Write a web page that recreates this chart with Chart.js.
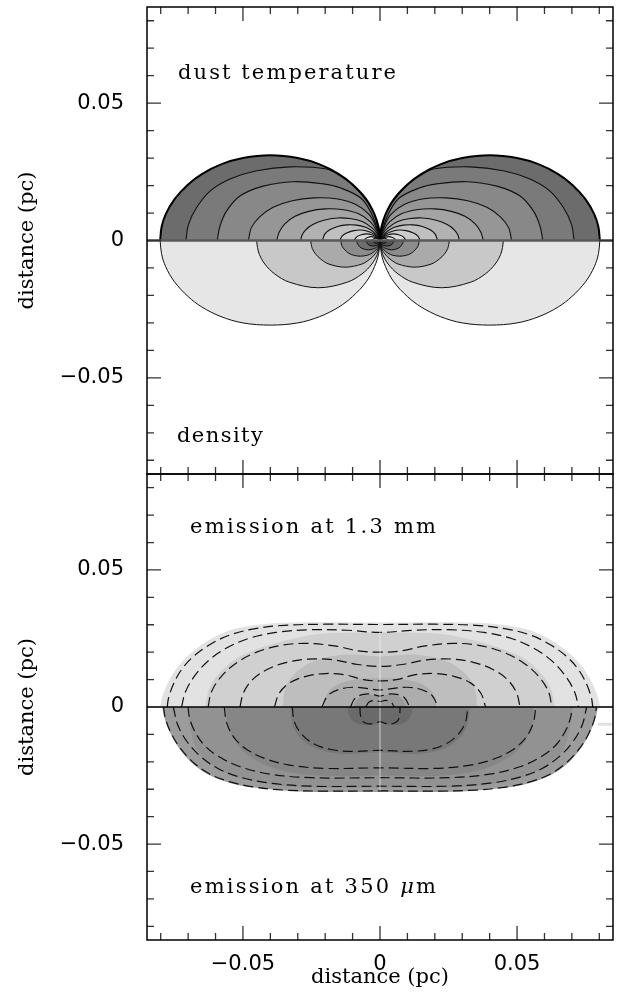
<!DOCTYPE html>
<html lang="en">
<head>
<meta charset="UTF-8">
<title>dust temperature / density / emission</title>
<script src="https://cdn.jsdelivr.net/npm/chart.js"></script>
<style>
    body { margin: 0; background: #fff; width: 618px; height: 994px; overflow: hidden; }
    .painel { position: absolute; left: 0; }
</style>
</head>
<body>
<canvas id="mapaTopo" class="painel" width="618" height="480" style="top:0"></canvas>
<canvas id="mapaBase" class="painel" width="618" height="524" style="top:470px"></canvas>

<script>
    // axis ticks (pc)
    var minorTicks = [-0.08, -0.07, -0.06, -0.05, -0.04, -0.03, -0.02, -0.01, 0, 0.01, 0.02, 0.03, 0.04, 0.05, 0.06, 0.07, 0.08];
    var majorTicks = [-0.05, 0, 0.05];
    var tickLabels = ['\u22120.05', '0', '0.05'];

    // top panel, right lobe (the left lobe is its mirror image), [x, y] in pc
    var lobeUpper = [[0, 0], [0.0005, 0.0048], [0.002, 0.0095], [0.005, 0.015], [0.01, 0.0204], [0.015, 0.0242], [0.022, 0.0277], [0.03, 0.030], [0.04, 0.031], [0.05, 0.030], [0.058, 0.0277], [0.065, 0.0242], [0.07, 0.0204], [0.075, 0.015], [0.0782, 0.0095], [0.0797, 0.0048], [0.0802, 0]];
    var lobeLower = [[0, 0], [0.0005, -0.0048], [0.002, -0.0095], [0.005, -0.015], [0.01, -0.0204], [0.015, -0.0242], [0.022, -0.0277], [0.03, -0.030], [0.04, -0.0308], [0.05, -0.030], [0.058, -0.0277], [0.065, -0.0242], [0.07, -0.0204], [0.075, -0.015], [0.0782, -0.0095], [0.0797, -0.0048], [0.0802, 0]];

    // dust temperature contours (upper half), from the centre out to the mid line
    var tempContours = [
        [[0, 0], [0.002, 0.0093], [0.005, 0.0146], [0.01, 0.0202], [0.015, 0.0238], [0.0195, 0.026], [0.0328, 0.0268], [0.045, 0.0254], [0.0547, 0.0224], [0.062, 0.018], [0.0669, 0.012], [0.0699, 0.0058], [0.0708, 0]],
        [[0, 0], [0.0024, 0.0082], [0.0067, 0.0152], [0.0146, 0.0192], [0.0207, 0.0206], [0.0316, 0.0214], [0.0426, 0.0198], [0.0511, 0.0162], [0.056, 0.0107], [0.0584, 0.0052], [0.0594, 0]],
        [[0, 0], [0.0015, 0.005], [0.004, 0.0095], [0.009, 0.0132], [0.016, 0.0152], [0.024, 0.0155], [0.032, 0.0145], [0.039, 0.0121], [0.044, 0.0085], [0.047, 0.0045], [0.048, 0]],
        [[0, 0], [0.0012, 0.0035], [0.0035, 0.0068], [0.008, 0.0098], [0.014, 0.0113], [0.02, 0.0115], [0.026, 0.0106], [0.031, 0.0088], [0.0348, 0.006], [0.0368, 0.003], [0.0377, 0]],
        [[0, 0], [0.001, 0.0024], [0.003, 0.0047], [0.0065, 0.0069], [0.011, 0.008], [0.0155, 0.0082], [0.0205, 0.0074], [0.0245, 0.0058], [0.0272, 0.0038], [0.0285, 0.0018], [0.0289, 0]],
        [[0, 0], [0.001, 0.0016], [0.0025, 0.0032], [0.005, 0.0047], [0.0085, 0.0056], [0.012, 0.0057], [0.0155, 0.0051], [0.0183, 0.0039], [0.0201, 0.0024], [0.021, 0]],
        [[0, 0], [0.0008, 0.0011], [0.002, 0.0022], [0.004, 0.0032], [0.0068, 0.0038], [0.0095, 0.0036], [0.0122, 0.0027], [0.0139, 0.0015], [0.0146, 0]],
        [[0, 0], [0.0006, 0.0007], [0.0015, 0.0014], [0.003, 0.0021], [0.0048, 0.0024], [0.0068, 0.0021], [0.0084, 0.0014], [0.0095, 0]],
        [[0, 0], [0.001, 0.0008], [0.002, 0.0012], [0.0032, 0.0014], [0.0045, 0.0011], [0.0054, 0.0006], [0.0058, 0]],
        [[0, 0], [0.0008, 0.0006], [0.0016, 0.0008], [0.0025, 0.0005], [0.003, 0]]
    ];

    // density contours (lower half)
    var densContours = [
        [[0, 0], [0.0003, -0.0025], [0.001, -0.0051], [0.003, -0.0086], [0.0065, -0.0121], [0.012, -0.0152], [0.0225, -0.0172], [0.033, -0.0152], [0.0385, -0.0121], [0.042, -0.0086], [0.044, -0.0051], [0.0447, -0.0025], [0.045, 0]],
        [[0, 0], [0.0002, -0.0014], [0.0006, -0.0029], [0.0017, -0.0048], [0.0037, -0.0068], [0.0067, -0.0086], [0.0127, -0.0097], [0.0186, -0.0086], [0.0216, -0.0068], [0.0236, -0.0048], [0.0247, -0.0029], [0.0251, -0.0014], [0.0253, 0]],
        [[0, 0], [0.0003, -0.0017], [0.001, -0.0029], [0.0021, -0.004], [0.0038, -0.0051], [0.0072, -0.0057], [0.0105, -0.0051], [0.0122, -0.004], [0.0133, -0.0029], [0.014, -0.0017], [0.0143, 0]],
        [[0, 0], [0.0002, -0.001], [0.0006, -0.0017], [0.0012, -0.0024], [0.0023, -0.003], [0.0043, -0.0034], [0.0062, -0.003], [0.0073, -0.0024], [0.0079, -0.0017], [0.0083, -0.001], [0.0085, 0]],
        [[0, 0], [0.0004, -0.0011], [0.0013, -0.0018], [0.0025, -0.002], [0.0037, -0.0018], [0.0046, -0.0011], [0.005, 0]],
        [[0, 0], [0.0002, -0.0006], [0.0007, -0.0009], [0.0013, -0.001], [0.0019, -0.0009], [0.0023, -0.0006], [0.0025, 0]]
    ];

    // bottom panel, right half from x = 0 to the mid line (left half mirrored)
    var mm13Fills = [
        [[0, 0.0308], [0.02, 0.0309], [0.035, 0.0307], [0.045, 0.0299], [0.052, 0.0287], [0.058, 0.0267], [0.064, 0.0234], [0.069, 0.0196], [0.0735, 0.015], [0.0768, 0.010], [0.079, 0.005], [0.0803, 0]],
        [[0, 0.0272], [0.0207, 0.0268], [0.031, 0.0251], [0.0389, 0.0231], [0.047, 0.0203], [0.0535, 0.017], [0.0585, 0.0125], [0.062, 0.0075], [0.0639, 0]],
        [[0, 0.0185], [0.008, 0.019], [0.0146, 0.019], [0.0215, 0.0176], [0.0268, 0.0155], [0.031, 0.0122], [0.0341, 0.008], [0.0352, 0.0035], [0.0353, 0]],
        [[0, 0.0105], [0.006, 0.0104], [0.0109, 0.0097], [0.015, 0.0085], [0.0185, 0.006], [0.0201, 0.003], [0.0207, 0]],
        [[0, 0.004], [0.003, 0.0045], [0.006, 0.0042], [0.008, 0.003], [0.0092, 0.0015], [0.0095, 0]]
    ];
    var mm13Lines = [
        [[0, 0.0301], [0.02, 0.0302], [0.035, 0.0298], [0.046, 0.0285], [0.055, 0.0262], [0.062, 0.0228], [0.068, 0.0185], [0.0725, 0.0135], [0.0755, 0.008], [0.0772, 0.003], [0.0776, 0]],
        [[0, 0.0272], [0.012, 0.028], [0.025, 0.0282], [0.038, 0.0272], [0.048, 0.025], [0.056, 0.0215], [0.0625, 0.017], [0.0675, 0.0115], [0.071, 0.0055], [0.0724, 0]],
        [[0, 0.020], [0.008, 0.0205], [0.016, 0.0222], [0.0268, 0.0232], [0.036, 0.0225], [0.045, 0.020], [0.0525, 0.016], [0.058, 0.011], [0.0615, 0.0055], [0.0627, 0]],
        [[0, 0.0148], [0.008, 0.0155], [0.017, 0.0172], [0.026, 0.0175], [0.034, 0.0163], [0.041, 0.0138], [0.0465, 0.010], [0.0498, 0.0052], [0.0511, 0]],
        [[0, 0.0095], [0.006, 0.010], [0.013, 0.0118], [0.02, 0.0122], [0.027, 0.0112], [0.033, 0.0088], [0.0368, 0.005], [0.0385, 0]],
        [[0, 0.0062], [0.005, 0.0068], [0.01, 0.0072], [0.015, 0.0064], [0.019, 0.0042], [0.0212, 0]],
        [[0, 0.004], [0.003, 0.0047], [0.006, 0.0046], [0.009, 0.0033], [0.0108, 0]],
        [[0, 0.002], [0.002, 0.0024], [0.004, 0.0018], [0.0052, 0]]
    ];
    var um350Fills = [
        [[0, -0.031], [0.02, -0.031], [0.033, -0.0306], [0.045, -0.0295], [0.0511, -0.0286], [0.057, -0.027], [0.062, -0.025], [0.0665, -0.0222], [0.0705, -0.0185], [0.074, -0.014], [0.0765, -0.0095], [0.0785, -0.0045], [0.0795, 0]],
        [[0, -0.0295], [0.02, -0.0295], [0.035, -0.0288], [0.046, -0.0272], [0.054, -0.025], [0.06, -0.022], [0.065, -0.018], [0.0675, -0.014], [0.069, -0.009], [0.0698, -0.004], [0.07, 0]],
        [[0, -0.025], [0.015, -0.0252], [0.028, -0.0245], [0.038, -0.0225], [0.046, -0.019], [0.0515, -0.0145], [0.0545, -0.0095], [0.0558, -0.0045], [0.056, 0]],
        [[0, -0.0165], [0.008, -0.017], [0.0146, -0.0171], [0.021, -0.016], [0.0265, -0.0135], [0.0305, -0.0095], [0.0322, -0.005], [0.0328, 0]],
        [[0, -0.0058], [0.004, -0.0066], [0.008, -0.0062], [0.0105, -0.0045], [0.0116, -0.002], [0.0118, 0]]
    ];
    var um350Lines = [
        [[0, -0.0306], [0.02, -0.0307], [0.035, -0.0303], [0.046, -0.0292], [0.055, -0.0272], [0.062, -0.0245], [0.0678, -0.0205], [0.0725, -0.0155], [0.076, -0.010], [0.0782, -0.0045], [0.079, 0]],
        [[0, -0.0289], [0.025, -0.0289], [0.04, -0.0278], [0.051, -0.0256], [0.059, -0.0225], [0.0655, -0.018], [0.0705, -0.0125], [0.0738, -0.0065], [0.0754, 0]],
        [[0, -0.0258], [0.025, -0.0258], [0.04, -0.0245], [0.051, -0.0218], [0.059, -0.018], [0.0645, -0.0135], [0.068, -0.008], [0.0696, -0.0035], [0.07, 0]],
        [[0, -0.0222], [0.02, -0.0224], [0.033, -0.0212], [0.042, -0.0188], [0.049, -0.0152], [0.0535, -0.0108], [0.056, -0.0055], [0.0568, 0]],
        [[0, -0.0158], [0.01, -0.0162], [0.018, -0.0155], [0.024, -0.0135], [0.0285, -0.010], [0.0312, -0.0055], [0.032, 0]],
        [[0, -0.0053], [0.002, -0.006], [0.0045, -0.0061], [0.0065, -0.005], [0.0072, -0.0025], [0.0073, 0]]
    ];

    // grey levels
    var tempGreys = ['#7a7a7a', '#888888', '#969696', '#a4a4a4', '#b2b2b2', '#c0c0c0', '#cccccc', '#d8d8d8', '#e4e4e4', '#efefef'];
    var densGreys = ['#c8c8c8', '#aaaaaa', '#8c8c8c', '#6e6e6e', '#505050', '#3a3a3a'];
    var mm13Greys = ['#e2e2e2', '#d0d0d0', '#bebebe', '#adadad', '#9b9b9b'];
    var um350Greys = ['#9c9c9c', '#929292', '#868686', '#787878', '#6a6a6a'];

    function pts(list, sx) {
        return list.map(function (p) { return { x: sx * p[0], y: p[1] }; });
    }

    function wholeShape(half) {
        var left = half.slice(1).reverse().map(function (p) { return { x: -p[0], y: p[1] }; });
        return left.concat(pts(half, 1));
    }

    function area(data, color) {
        return { data: data, showLine: true, fill: 'shape', backgroundColor: color, borderColor: 'transparent', borderWidth: 0, pointRadius: 0, tension: 0.35 };
    }

    function curve(data, color, width, dash) {
        return { data: data, showLine: true, fill: false, borderColor: color, borderWidth: width, borderDash: dash || [], pointRadius: 0, tension: 0.35 };
    }

    function tickText(v) {
        for (var i = 0; i < majorTicks.length; i++) {
            if (Math.abs(majorTicks[i] - v) < 1e-9) return tickLabels[i];
        }
        return '';
    }

    // inward tick marks on all four sides plus the frame
    var frameTicks = {
        id: 'frameTicks',
        afterDatasetsDraw: function (chart) {
            var ctx = chart.ctx, a = chart.chartArea, sx = chart.scales.x, sy = chart.scales.y;
            ctx.save();
            ctx.strokeStyle = '#333';
            ctx.lineWidth = 1.3;
            ctx.beginPath();
            minorTicks.forEach(function (v) {
                var len = tickText(v) !== '' ? 14 : 7;
                var px = sx.getPixelForValue(v), py = sy.getPixelForValue(v);
                ctx.moveTo(px, a.bottom); ctx.lineTo(px, a.bottom - len);
                ctx.moveTo(px, a.top); ctx.lineTo(px, a.top + len);
                ctx.moveTo(a.left, py); ctx.lineTo(a.left + len, py);
                ctx.moveTo(a.right, py); ctx.lineTo(a.right - len, py);
            });
            ctx.stroke();
            ctx.strokeStyle = '#000';
            ctx.lineWidth = 1.5;
            ctx.strokeRect(a.left, a.top, a.right - a.left, a.bottom - a.top);
            ctx.restore();
        }
    };

    // panel captions, spread out to the width of the original lettering
    function captions(items) {
        return {
            id: 'captions',
            afterDraw: function (chart) {
                var ctx = chart.ctx, sx = chart.scales.x, sy = chart.scales.y;
                ctx.save();
                ctx.fillStyle = '#000';
                ctx.textBaseline = 'alphabetic';
                items.forEach(function (it) {
                    var chars = [], natural = 0;
                    it.parts.forEach(function (p) {
                        ctx.font = (p.italic ? 'italic ' : '') + '21px "DejaVu Serif"';
                        for (var k = 0; k < p.text.length; k++) {
                            var w = ctx.measureText(p.text[k]).width;
                            chars.push({ c: p.text[k], font: ctx.font, w: w });
                            natural += w;
                        }
                    });
                    var gap = (it.width - natural) / (chars.length - 1);
                    var x = sx.getPixelForValue(it.x), y = sy.getPixelForValue(it.y);
                    chars.forEach(function (ch) {
                        ctx.font = ch.font;
                        ctx.fillText(ch.c, x, y);
                        x += ch.w + gap;
                    });
                });
                ctx.restore();
            }
        };
    }

    function axisY() {
        return {
            type: 'linear', min: -0.085, max: 0.085,
            afterBuildTicks: function (s) { s.ticks = minorTicks.map(function (v) { return { value: v }; }); },
            afterFit: function (s) { s.width = 147; s.paddingTop = 0; s.paddingBottom = 0; },
            grid: { display: false },
            border: { display: false },
            ticks: { autoSkip: false, padding: 15, color: '#000', font: { family: 'DejaVu Sans', size: 21 }, callback: tickText },
            title: { display: true, text: 'distance (pc)', color: '#000', font: { family: 'DejaVu Serif', size: 21 }, padding: { top: 15, bottom: 0 } }
        };
    }

    // ---- top panel: dust temperature (above) and density (below)
    var topSets = [];
    [-1, 1].forEach(function (s) { topSets.push(area(pts(lobeUpper, s), '#6c6c6c')); });
    tempContours.forEach(function (c, i) {
        [-1, 1].forEach(function (s) { topSets.push(area(pts(c, s), tempGreys[i])); });
    });
    [-1, 1].forEach(function (s) { topSets.push(area(pts(lobeLower, s), '#e6e6e6')); });
    densContours.forEach(function (c, i) {
        [-1, 1].forEach(function (s) { topSets.push(area(pts(c, s), densGreys[i])); });
    });
    tempContours.forEach(function (c) {
        [-1, 1].forEach(function (s) { topSets.push(curve(pts(c, s), '#111', 1.1)); });
    });
    densContours.forEach(function (c) {
        [-1, 1].forEach(function (s) { topSets.push(curve(pts(c, s), '#111', 1)); });
    });
    [-1, 1].forEach(function (s) {
        topSets.push(curve(pts(lobeUpper, s), '#000', 2));
        topSets.push(curve(pts(lobeLower, s), '#111', 1));
    });
    topSets.push(curve([{ x: -0.085, y: 0 }, { x: 0.085, y: 0 }], '#5a5a5a', 2.5));
    topSets.forEach(function (d, i) { d.order = -i; });

    new Chart(document.getElementById('mapaTopo'), {
        type: 'scatter',
        data: { datasets: topSets },
        options: {
            responsive: false,
            animation: false,
            layout: { padding: { left: 0, top: 7, right: 5, bottom: 6 } },
            scales: {
                x: { type: 'linear', min: -0.085, max: 0.085, display: false },
                y: axisY()
            },
            plugins: { legend: { display: false }, tooltip: { enabled: false } }
        },
        plugins: [frameTicks, captions([
            { parts: [{ text: 'dust temperature' }], x: -0.0737, y: 0.0588, width: 218 },
            { parts: [{ text: 'density' }], x: -0.0741, y: -0.0734, width: 86 }
        ])]
    });

    // ---- bottom panel: emission at 1.3 mm (above) and 350 micron (below)
    var baseSets = [];
    mm13Fills.forEach(function (c, i) { baseSets.push(area(wholeShape(c), mm13Greys[i])); });
    um350Fills.forEach(function (c, i) { baseSets.push(area(wholeShape(c), um350Greys[i])); });
    mm13Lines.forEach(function (c) { baseSets.push(curve(wholeShape(c), '#111', 1.2, [10, 5])); });
    um350Lines.forEach(function (c) { baseSets.push(curve(wholeShape(c), '#111', 1.2, [10, 5])); });
    baseSets.push(curve([{ x: 0, y: 0.0305 }, { x: 0, y: -0.0305 }], 'rgba(240,240,240,0.7)', 1));
    baseSets.push(curve([{ x: 0.0795, y: -0.0063 }, { x: 0.085, y: -0.0063 }], '#e2e2e2', 3));
    baseSets.push(curve([{ x: -0.085, y: 0 }, { x: 0.085, y: 0 }], '#000', 1.5));
    baseSets.forEach(function (d, i) { d.order = -i; });

    new Chart(document.getElementById('mapaBase'), {
        type: 'scatter',
        data: { datasets: baseSets },
        options: {
            responsive: false,
            animation: false,
            layout: { padding: { left: 0, top: 4, right: 5, bottom: 0 } },
            scales: {
                x: {
                    type: 'linear', min: -0.085, max: 0.085,
                    afterBuildTicks: function (s) { s.ticks = minorTicks.map(function (v) { return { value: v }; }); },
                    afterFit: function (s) { s.height = 54; s.paddingLeft = 0; s.paddingRight = 0; },
                    grid: { display: false },
                    border: { display: false },
                    ticks: { autoSkip: false, maxRotation: 0, padding: 4, color: '#000', font: { family: 'DejaVu Sans', size: 21 }, callback: tickText },
                    title: { display: true, text: 'distance (pc)', color: '#000', font: { family: 'DejaVu Serif', size: 21 }, padding: { top: 0, bottom: 4 } }
                },
                y: axisY()
            },
            plugins: { legend: { display: false }, tooltip: { enabled: false } }
        },
        plugins: [frameTicks, captions([
            { parts: [{ text: 'emission at 1.3 mm' }], x: -0.0693, y: 0.0635, width: 246 },
            { parts: [{ text: 'emission at 350 ' }, { text: '\u03bc', italic: true }, { text: 'm' }], x: -0.0693, y: -0.0679, width: 246 }
        ])]
    });
</script>
</body>
</html>
